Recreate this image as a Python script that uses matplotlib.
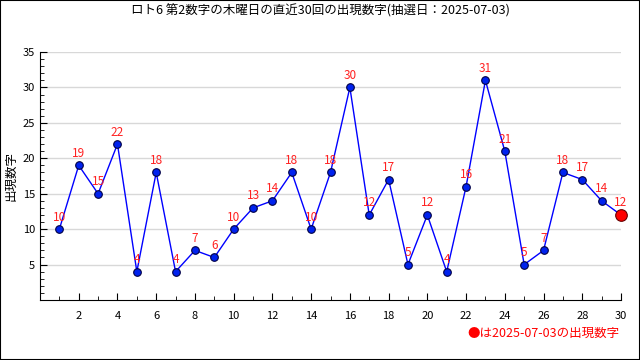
import matplotlib
matplotlib.use("Agg")
import matplotlib.pyplot as plt
from matplotlib.ticker import MultipleLocator

plt.rcParams["font.family"] = ["Noto Sans CJK JP", "DejaVu Sans"]

# --- data ---
draws = list(range(1, 31))
numbers = [10, 19, 15, 22, 4, 18, 4, 7, 6, 10,
           13, 14, 18, 10, 18, 30, 12, 17, 5, 12,
           4, 16, 31, 21, 5, 7, 18, 17, 14, 12]
xtick_labels = list(range(2, 31, 2))
ytick_labels = [5, 10, 15, 20, 25, 30, 35]
title = "ロト6 第2数字の木曜日の直近30回の出現数字(抽選日：2025-07-03)"
ylabel = "出現数字"
note = "●は2025-07-03の出現数字"

fig = plt.figure(figsize=(6.4, 3.6), dpi=100)
ax = fig.add_axes([40 / 640, 60 / 360, 581 / 640, 248 / 360])

ax.plot(draws, numbers, color="#0000ff", linewidth=1, zorder=2)
ax.scatter(draws[:-1], numbers[:-1], s=30, color="#0022ee",
           edgecolors="#000044", linewidths=0.8, zorder=3)
ax.scatter(draws[-1:], numbers[-1:], s=70, color="#ff0000",
           edgecolors="#660000", linewidths=0.8, zorder=3, clip_on=False)

for x, y in zip(draws, numbers):
    ax.annotate(str(y), (x, y), xytext=(0, 4), textcoords="offset points",
                ha="center", va="bottom", color="#ff2222", fontsize=8.5,
                zorder=4)

ax.set_xlim(0, 30)
ax.set_ylim(0, 35)
ax.set_xticks(xtick_labels)
ax.xaxis.set_minor_locator(MultipleLocator(1))
ax.set_yticks(ytick_labels)
ax.yaxis.set_minor_locator(MultipleLocator(1))
ax.grid(axis="y", color="#d8d8d8", linewidth=1, zorder=0)
ax.set_axisbelow(True)

for side in ("top", "right"):
    ax.spines[side].set_visible(False)
ax.tick_params(which="both", direction="in", labelsize=8)
ax.tick_params(which="major", length=5)
ax.tick_params(which="minor", length=3)
ax.tick_params(axis="x", pad=8)

ax.set_ylabel(ylabel, fontsize=9, labelpad=4)
fig.text(0.5, 1 - 11 / 360, title, ha="center", va="center", fontsize=9)
fig.text(620 / 640, 1 - 333 / 360, note, ha="right", va="center",
         fontsize=9, color="#ff0000")

# outer frame
fig.patches.append(plt.Rectangle((0, 0), 1, 1, transform=fig.transFigure,
                                 fill=False, edgecolor="black", linewidth=1.5))

fig.savefig("out.png", dpi=100)
